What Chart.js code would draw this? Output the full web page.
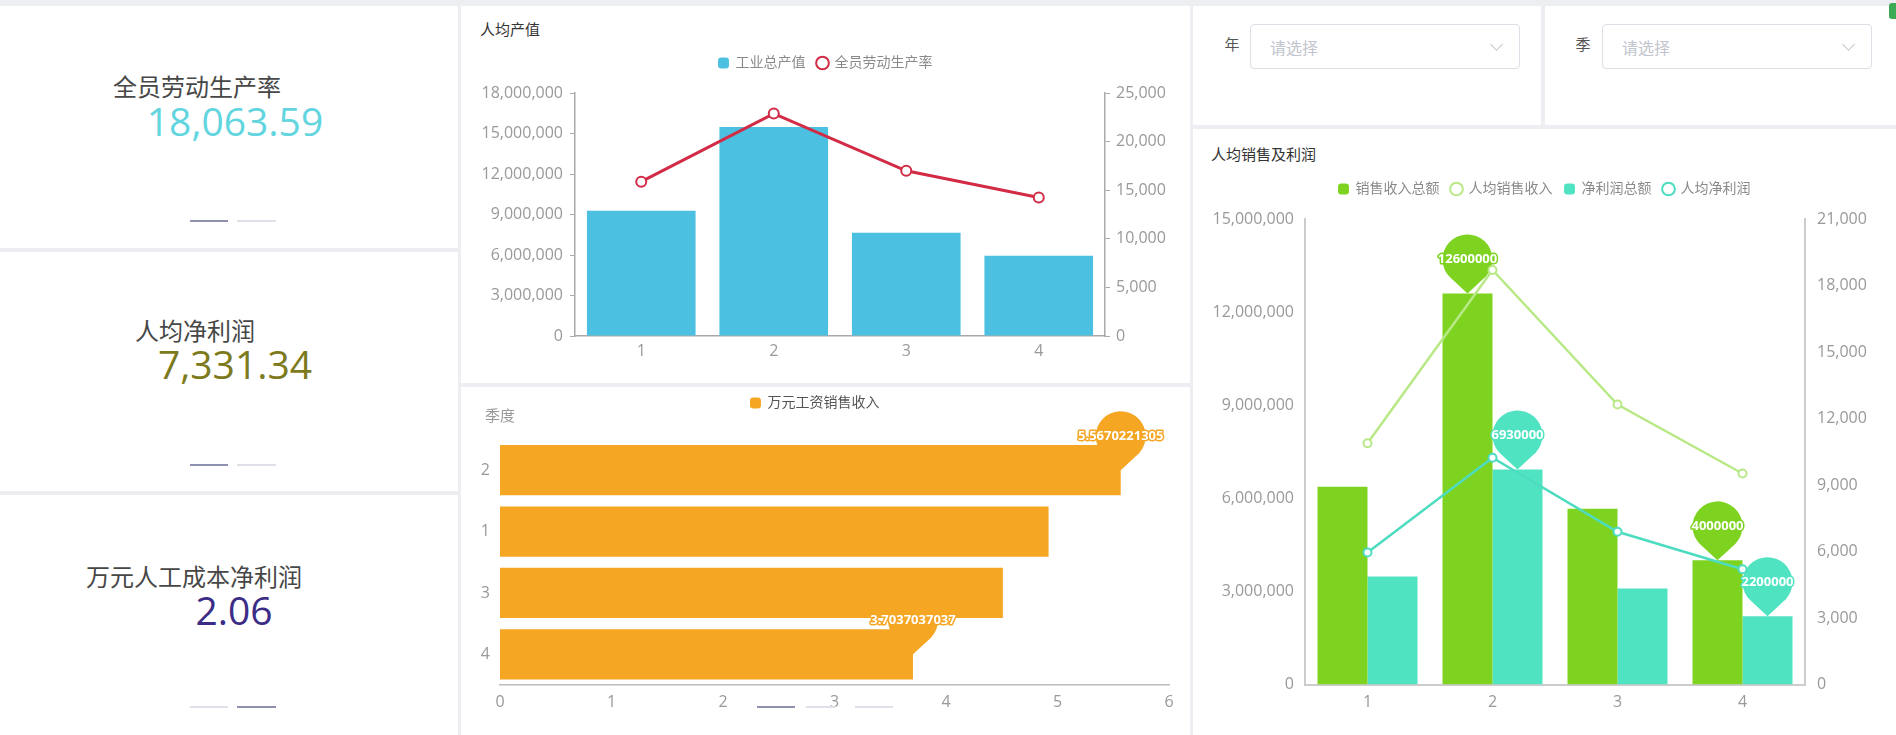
<!DOCTYPE html>
<html>
<head>
  <title>人均产值</title>
  <meta charset="UTF-8">
  <script src="https://cdn.jsdelivr.net/npm/chart.js"></script>
  <style>
    body { margin: 0; width: 1896px; height: 735px; overflow: hidden; position: relative;
           background: #eceef1; font-family: 'Open Sans', 'Noto Sans CJK SC', sans-serif; }
    .card { position: absolute; background: #fff; overflow: hidden; }
    .card canvas { position: absolute; left: 0; top: 0; }
    .kpi-name, .kpi-val { position: absolute; transform: translate(-50%, -50%); white-space: nowrap; }
    .kpi-name { font-size: 24px; color: #474747; }
    .kpi-val { font-size: 39px; }
    .bar { position: absolute; height: 2px; }
    .dark { background: #8e92b0; }
    .light { background: #dfe0ea; }
    .title { position: absolute; font-size: 15px; color: #333; transform: translateY(-50%); }
    .flabel { position: absolute; font-size: 15px; color: #555; transform: translate(-50%, -50%); }
    .select { position: absolute; border: 1px solid #dcdfe6; border-radius: 4px; box-sizing: border-box; }
    .select span { position: absolute; left: 19px; top: 50%; transform: translateY(-50%); font-size: 16px; color: #c0c4cc; }
    .select i { position: absolute; right: 18px; top: 15px; width: 8px; height: 8px;
                border-right: 1px solid #c0c4cc; border-bottom: 1px solid #c0c4cc; transform: rotate(45deg); }
  </style>
</head>
<body>

<div class="card" style="left:0;top:6px;width:458px;height:242px;" id="kpi0"></div>
<div class="card" style="left:0;top:252px;width:458px;height:239px;" id="kpi1"></div>
<div class="card" style="left:0;top:495px;width:458px;height:240px;" id="kpi2"></div>

<div class="card" style="left:461px;top:6px;width:729px;height:377px;">
  <div class="title" style="left:19px;top:22px;">人均产值</div>
  <canvas id="outputChart" width="729" height="377"></canvas>
</div>

<div class="card" style="left:461px;top:387px;width:729px;height:348px;">
  <canvas id="wageChart" width="729" height="348"></canvas>
  <div class="title" style="left:24px;top:27px;color:#999;">季度</div>
  <div class="bar dark" style="left:296px;top:319px;width:38px;"></div>
  <div class="bar light" style="left:345px;top:319px;width:29px;"></div>
  <div class="bar light" style="left:394px;top:319px;width:38px;"></div>
</div>

<div class="card" style="left:1193px;top:6px;width:348px;height:119px;">
  <div class="flabel" style="left:39px;top:37px;">年</div>
  <div class="select" style="left:57px;top:18px;width:270px;height:45px;"><span>请选择</span><i></i></div>
</div>
<div class="card" style="left:1545px;top:6px;width:351px;height:119px;">
  <div class="flabel" style="left:38px;top:37px;">季</div>
  <div class="select" style="left:57px;top:18px;width:270px;height:45px;"><span>请选择</span><i></i></div>
</div>
<div style="position:absolute;left:1889px;top:3px;width:7px;height:16px;background:#3daa55;border-radius:3px 0 0 3px;"></div>

<div class="card" style="left:1193px;top:129px;width:703px;height:606px;">
  <div class="title" style="left:18px;top:24px;">人均销售及利润</div>
  <canvas id="salesChart" width="703" height="606"></canvas>
</div>

<script>
// KPI cards
var kpiNames = ['全员劳动生产率', '人均净利润', '万元人工成本净利润'];
var kpiValues = ['18,063.59', '7,331.34', '2.06'];
var kpiColors = ['#62d5df', '#7d7a1e', '#3b2d86'];

// 人均产值
var quarters = ['1', '2', '3', '4'];
var grossOutput = [9270000, 15480000, 7650000, 5940000];   // 工业总产值
var laborProductivity = [15880, 22880, 17000, 14250];      // 全员劳动生产率

// 万元工资销售收入
var wageQuarters = ['2', '1', '3', '4'];
var salesPerWage = [5.5670221305, 4.92, 4.51, 3.7037037037];

// 人均销售及利润
var salesTotal = [6370000, 12600000, 5660000, 4000000];    // 销售收入总额
var salesPerHead = [10880, 18700, 12630, 9520];            // 人均销售收入
var profitTotal = [3480000, 6930000, 3090000, 2200000];    // 净利润总额
var profitPerHead = [5960, 10230, 6890, 5200];             // 人均净利润

var kpiPos = [[197, 79, 235, 114], [195, 77, 235, 111], [194, 80, 234, 114]];
var kpiPager = [[214, 0], [212, 0], [211, 1]];
kpiNames.forEach(function (name, i) {
  var card = document.getElementById('kpi' + i);
  var p = kpiPos[i];
  card.innerHTML =
    '<div class="kpi-name" style="left:' + p[0] + 'px;top:' + p[1] + 'px;">' + name + '</div>' +
    '<div class="kpi-val" style="left:' + p[2] + 'px;top:' + p[3] + 'px;color:' + kpiColors[i] + ';">' + kpiValues[i] + '</div>' +
    '<div class="bar ' + (kpiPager[i][1] === 0 ? 'dark' : 'light') + '" style="left:190px;top:' + kpiPager[i][0] + 'px;width:38px;"></div>' +
    '<div class="bar ' + (kpiPager[i][1] === 1 ? 'dark' : 'light') + '" style="left:237px;top:' + kpiPager[i][0] + 'px;width:39px;"></div>';
});

Chart.defaults.font.family = "'Open Sans', 'Noto Sans CJK SC', sans-serif";
Chart.defaults.locale = 'en-US';

function legendLabels(chart) {
  var items = Chart.defaults.plugins.legend.labels.generateLabels(chart);
  items.forEach(function (it) {
    var ds = chart.data.datasets[it.datasetIndex];
    if (ds.type === 'line') {
      it.pointStyle = 'circle';
      it.fillStyle = '#fff';
      it.strokeStyle = ds.borderColor;
      it.lineWidth = 2;
    } else {
      it.pointStyle = 'rectRounded';
    }
  });
  items.sort(function (a, b) { return a.datasetIndex - b.datasetIndex; });
  return items;
}

function legendOpts(color, pad) {
  return {
    labels: { usePointStyle: true, boxWidth: 10, boxHeight: 9, padding: pad, color: color,
              font: { size: 14 }, generateLabels: legendLabels }
  };
}

// empty subtitle used as a gap under the legend
function spacer(h) {
  return { display: true, text: ' ', weight: 500, font: { size: 1, lineHeight: 1 }, padding: { top: h - 1, bottom: 0 } };
}

function drawPin(ctx, x, y, color, text) {
  var r = 25, d = 34;
  var th = Math.acos(r / d);
  var cy = y - d;
  ctx.save();
  ctx.beginPath();
  ctx.moveTo(x, y);
  ctx.arc(x, cy, r, Math.PI / 2 + th, Math.PI / 2 - th + Math.PI * 2);
  ctx.closePath();
  ctx.fillStyle = color;
  ctx.fill();
  ctx.font = "bold 13px 'Open Sans', sans-serif";
  ctx.textAlign = 'center';
  ctx.textBaseline = 'middle';
  ctx.lineJoin = 'round';
  ctx.lineWidth = 3;
  ctx.strokeStyle = color;
  ctx.strokeText(text, x, cy);
  ctx.fillStyle = '#fff';
  ctx.fillText(text, x, cy);
  ctx.restore();
}

function drawPins(chart, opts) {
  chart.$pinsDone = true;
  (opts.sets || []).forEach(function (s) {
    var values = chart.data.datasets[s.index].data;
    var meta = chart.getDatasetMeta(s.index);
    var maxI = values.indexOf(Math.max.apply(null, values));
    var minI = values.indexOf(Math.min.apply(null, values));
    [maxI, minI].forEach(function (i) {
      var el = meta.data[i];
      drawPin(chart.ctx, el.x, el.y, s.color, String(values[i]));
    });
  });
}

// max / min markers, drawn above the bars but under the lines
var pinPlugin = {
  id: 'pins',
  beforeDatasetsDraw: function (chart) { chart.$pinsDone = false; },
  beforeDatasetDraw: function (chart, args, opts) {
    if (!chart.$pinsDone && chart.data.datasets[args.index].type === 'line') drawPins(chart, opts);
  },
  afterDatasetsDraw: function (chart, args, opts) {
    if (!chart.$pinsDone) drawPins(chart, opts);
  }
};

var tickFont = { size: 16 };

new Chart(document.getElementById('outputChart'), {
  type: 'bar',
  data: {
    labels: quarters,
    datasets: [{
      label: '工业总产值',
      data: grossOutput,
      backgroundColor: '#4bc0e1',
      yAxisID: 'y',
      order: 1,
      categoryPercentage: 0.82,
      barPercentage: 1
    }, {
      label: '全员劳动生产率',
      type: 'line',
      data: laborProductivity,
      yAxisID: 'y1',
      order: 0,
      borderColor: '#d22b45',
      backgroundColor: '#fff',
      borderWidth: 3,
      pointRadius: 5,
      pointBorderWidth: 2,
      pointBackgroundColor: '#fff'
    }]
  },
  options: {
    responsive: false,
    animation: false,
    layout: { padding: { top: 38 } },
    plugins: {
      legend: legendOpts('#8a8a8a', 12),
      subtitle: spacer(13),
      tooltip: { enabled: false }
    },
    scales: {
      x: {
        grid: { display: false, drawTicks: false },
        border: { color: '#aaa', width: 1.5 },
        ticks: { color: '#999', font: tickFont, padding: 6 },
        afterFit: function (s) { s.height = 47; }
      },
      y: {
        position: 'left', min: 0, max: 18000000,
        grid: { display: true, drawOnChartArea: false, tickLength: 5, color: '#aaa' },
        border: { color: '#aaa', width: 1.5 },
        ticks: { stepSize: 3000000, color: '#999', font: tickFont, padding: 7 },
        afterFit: function (s) { s.width = 114; }
      },
      y1: {
        position: 'right', min: 0, max: 25000,
        grid: { display: true, drawOnChartArea: false, tickLength: 5, color: '#aaa' },
        border: { color: '#aaa', width: 1.5 },
        ticks: { stepSize: 5000, color: '#999', font: tickFont, padding: 6 },
        afterFit: function (s) { s.width = 85; }
      }
    }
  }
});

new Chart(document.getElementById('wageChart'), {
  type: 'bar',
  data: {
    labels: wageQuarters,
    datasets: [{
      label: '万元工资销售收入',
      data: salesPerWage,
      backgroundColor: '#f5a623',
      categoryPercentage: 0.82,
      barPercentage: 1
    }]
  },
  options: {
    responsive: false,
    animation: false,
    indexAxis: 'y',
    layout: { padding: { top: 1, right: 21 } },
    plugins: {
      legend: legendOpts('#555', 8),
      subtitle: spacer(19.5),
      tooltip: { enabled: false },
      pins: { sets: [{ index: 0, color: '#f5a623' }] }
    },
    scales: {
      x: {
        min: 0, max: 6,
        grid: { display: false, drawTicks: false },
        border: { color: '#bbb', width: 1.5 },
        ticks: { stepSize: 1, color: '#999', font: tickFont, padding: 8 },
        afterFit: function (s) { s.height = 50; }
      },
      y: {
        grid: { display: false, drawTicks: false },
        border: { display: false },
        ticks: { color: '#999', font: tickFont, padding: 10 },
        afterFit: function (s) { s.width = 39; }
      }
    }
  },
  plugins: [pinPlugin]
});

new Chart(document.getElementById('salesChart'), {
  type: 'bar',
  data: {
    labels: quarters,
    datasets: [{
      label: '销售收入总额',
      data: salesTotal,
      backgroundColor: '#7ed321',
      yAxisID: 'y',
      order: 1,
      categoryPercentage: 0.8,
      barPercentage: 1
    }, {
      label: '人均销售收入',
      type: 'line',
      data: salesPerHead,
      yAxisID: 'y1',
      order: 0,
      borderColor: '#b8e986',
      backgroundColor: '#fff',
      borderWidth: 2.5,
      pointRadius: 4,
      pointBorderWidth: 2,
      pointBackgroundColor: '#fff'
    }, {
      label: '净利润总额',
      data: profitTotal,
      backgroundColor: '#50e3c2',
      yAxisID: 'y',
      order: 1,
      categoryPercentage: 0.8,
      barPercentage: 1
    }, {
      label: '人均净利润',
      type: 'line',
      data: profitPerHead,
      yAxisID: 'y1',
      order: 0,
      borderColor: '#4ddcc0',
      backgroundColor: '#fff',
      borderWidth: 2.5,
      pointRadius: 4,
      pointBorderWidth: 2,
      pointBackgroundColor: '#fff'
    }]
  },
  options: {
    responsive: false,
    animation: false,
    layout: { padding: { top: 41 } },
    plugins: {
      legend: legendOpts('#8a8a8a', 12),
      subtitle: spacer(13),
      tooltip: { enabled: false },
      pins: { sets: [{ index: 0, color: '#7ed321' }, { index: 2, color: '#50e3c2' }] }
    },
    scales: {
      x: {
        grid: { display: false, drawTicks: false },
        border: { color: '#ccc', width: 2 },
        ticks: { color: '#999', font: tickFont, padding: 8 },
        afterFit: function (s) { s.height = 50.5; }
      },
      y: {
        position: 'left', min: 0, max: 15000000,
        grid: { display: false, drawTicks: false },
        border: { color: '#ccc', width: 2 },
        ticks: { stepSize: 3000000, color: '#999', font: tickFont, padding: 11 },
        afterFit: function (s) { s.width = 112; }
      },
      y1: {
        position: 'right', min: 0, max: 21000,
        grid: { display: false, drawTicks: false },
        border: { color: '#ccc', width: 2 },
        ticks: { stepSize: 3000, color: '#999', font: tickFont, padding: 12 },
        afterFit: function (s) { s.width = 91; }
      }
    }
  },
  plugins: [pinPlugin]
});
</script>
</body>
</html>
